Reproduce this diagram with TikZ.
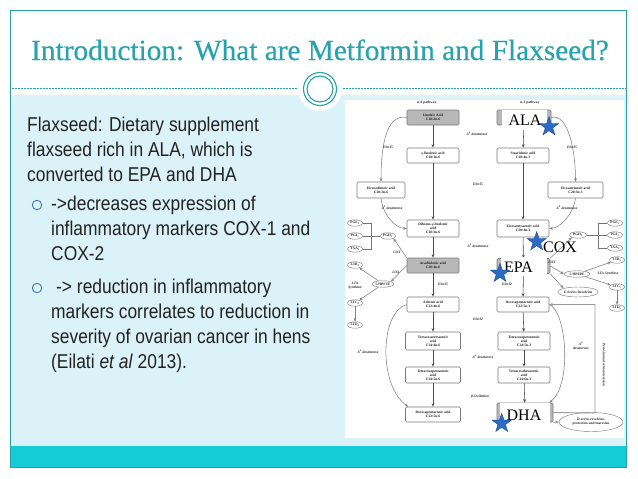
\documentclass[tikz,border=0pt]{standalone}
\usepackage{fontspec}
\setmainfont{Liberation Serif}
\newfontfamily\bodyfont[FakeStretch=0.87]{Liberation Sans}
\newfontfamily\ttlfont[FakeBold=0.35]{Liberation Serif}
\newfontfamily\lblfont{Liberation Serif}
\usetikzlibrary{shapes.geometric,arrows.meta}
\definecolor{teal1}{HTML}{26A3AD}
\definecolor{frame1}{HTML}{2C9EA8}
\definecolor{band}{HTML}{14CCD6}
\definecolor{panel}{HTML}{DBF3F8}
\definecolor{bul}{HTML}{2F6DB5}
\definecolor{txt}{HTML}{222222}
\definecolor{starf}{HTML}{2D6BC4}
\definecolor{stard}{HTML}{1C4C94}
\definecolor{pgray}{HTML}{7A7A7A}
\definecolor{pfill}{HTML}{B8B8B8}
\newcommand\pwf{\fontsize{3.6}{4.0}\selectfont\bfseries}
\newcommand\pwi{\fontsize{3.6}{4.0}\selectfont\bfseries\itshape}
\begin{document}
\begin{tikzpicture}[x=1pt,y=-1pt,
 bodytxt/.style={font=\bodyfont\fontsize{20}{24}\selectfont, text=txt, inner sep=0, anchor=base west},
 bulletc/.style={circle, draw=bul, line width=0.8pt, minimum size=9.5pt, inner sep=0},
 pbox/.style={draw=pgray, line width=0.55pt, rounded corners=1.2pt, fill=white, font=\pwf, align=center, inner sep=0.3pt, minimum width=52pt, minimum height=15pt, text=black!90},
 gbox/.style={pbox, fill=pfill},
 pell/.style={ellipse, draw=pgray, line width=0.45pt, fill=white, font=\pwf, inner sep=0.2pt, minimum width=15pt, minimum height=6.5pt, text=black!85, align=center},
 parr/.style={draw=black!70, line width=0.55pt, -{Stealth[length=3.5pt,width=2.8pt]}},
 parc/.style={parr, draw=black!50},
 pline/.style={draw=black!55, line width=0.5pt},
 plab/.style={font=\pwi, text=black!85, inner sep=0.3pt, align=center},
 phead/.style={font=\pwf, text=black!85, inner sep=0.3pt},
 coverbox/.style={fill=white, inner sep=0, draw=none},
 biglab/.style={font=\lblfont\fontsize{16}{16}\selectfont, text=black, inner sep=0},
 starst/.style={star, star points=5, star point ratio=2.5, fill=starf, draw=stard, line width=0.4pt, minimum size=20pt, inner sep=0}
]
\useasboundingbox (0,0) rectangle (638,479);
\fill[white] (0,0) rectangle (638,479);
% panel and band
\fill[panel] (10.5,95) rectangle (625.5,446);
\fill[band] (10.5,446) rectangle (625.5,466.5);
\draw[frame1, line width=0.9pt] (10,10) rectangle (626,467);
\draw[teal1, line width=0.6pt, dash pattern=on 0.7pt off 0.8pt] (10,88) -- (626,88);
% ornament
\fill[white] (320,89) circle[radius=22pt];
\draw[teal1, line width=1.1pt] (320,89) circle[radius=16.5pt];
\draw[teal1, line width=1.1pt] (320,89) circle[radius=13pt];
% title
\node[anchor=base west, font=\ttlfont\fontsize{29.3}{32}\selectfont, text=teal1, inner sep=0] (title) at (31,60) {Introduction: What are Metformin and Flaxseed?};
% body text
\node[bodytxt] (l1) at (27,131) {Flaxseed: Dietary supplement};
\node[bodytxt] (l2) at (27,156) {flaxseed rich in ALA, which is};
\node[bodytxt] (l3) at (27,181) {converted to EPA and DHA};
\node[bulletc] (b1) at (37,205) {};
\node[bodytxt] (l4) at (51,210) {->decreases expression of};
\node[bodytxt] (l5) at (51,235) {inflammatory markers COX-1 and};
\node[bodytxt] (l6) at (51,260) {COX-2};
\node[bulletc] (b2) at (37,288) {};
\node[bodytxt] (l7) at (56,293) {-> reduction in inflammatory};
\node[bodytxt] (l8) at (51,318) {markers correlates to reduction in};
\node[bodytxt] (l9) at (51,343) {severity of ovarian cancer in hens};
\node[bodytxt] (l10) at (51,368) {(Eilati \textit{et al} 2013).};
% pathway image background
\fill[white] (345,100) rectangle (624,438);
\node[phead] (h6) at (427,102.5) {n-6 pathway};
\node[phead] (h3) at (530,102.5) {n-3 pathway};
% n-6 column
\node[gbox] (lin) at (433,117.5) {Linoleic Acid\\C18:2n-6};
\node[pbox] (gla) at (433,155.5) {γ-linolenic acid\\C18:3n-6};
\node[pbox, minimum height=17pt] (dgla) at (433,228.5) {Dihomo-γ-linolenic\\acid\\C20:3n-6};
\node[gbox] (ara) at (433,265.5) {Arachidonic acid\\C20:4n-6};
\node[pbox] (adr) at (433,304.5) {Adrenic acid\\C22:4n-6};
\node[pbox, minimum width=55pt, minimum height=18pt] (tta) at (433,341) {Tetracosatetraenoic\\acid\\C24:4n-6};
\node[pbox, minimum width=55pt, minimum height=16pt] (tpa6) at (433,375) {Tetracosapentaenoic\\acid\\C24:5n-6};
\node[pbox, minimum width=55pt] (dpa6) at (433,414.5) {Docosapentaenoic acid\\C22:5n-6};
% n-3 column
\node[gbox, minimum width=54pt] (ala) at (524,117.5) {};
\node[pbox] (sda) at (523,155.5) {Stearidonic acid\\C18:4n-3};
\node[pbox, minimum height=17pt] (eta) at (523,228.5) {Eicosatetraenoic acid\\C20:4n-3};
\node[gbox, minimum width=53pt] (epa) at (523.5,266) {};
\node[pbox] (dpa3) at (523,304.5) {Docosapentaenoic acid\\C22:5n-3};
\node[pbox, minimum height=18pt] (tpa3) at (524,341) {Tetracosapentaenoic\\acid\\C24:5n-3};
\node[pbox, minimum height=16pt] (thx) at (524,375) {Tetracosahexaenoic\\acid\\C24:6n-3};
\node[gbox, minimum width=56pt, minimum height=19pt] (dha) at (525,412.5) {};
% side boxes
\node[pbox, minimum width=48pt, minimum height=16pt] (eda) at (381,190) {Eicosadienoic acid\\C20:2n-6};
\node[pbox, minimum width=55pt, minimum height=16pt] (etra) at (575.5,190) {Eicosatrienoic acid\\C20:3n-3};
% vertical arrows
\draw[parr] (lin) -- (gla);
\draw[parr] (gla) -- (dgla);
\draw[parr] (dgla) -- (ara);
\draw[parr] (ara) -- (adr);
\draw[parr] (adr) -- (tta);
\draw[parr] (tta) -- (tpa6);
\draw[parr] (tpa6) -- (dpa6);
\draw[parr] (ala) -- (sda);
\draw[parr] (sda) -- (eta);
\draw[parr] (eta) -- (epa);
\draw[parr] (epa) -- (dpa3);
\draw[parr] (dpa3) -- (tpa3);
\draw[parr] (tpa3) -- (thx);
\draw[parr] (thx) -- (dha);
% curved arrows
\draw[parc] (lin.west) .. controls (385,113) and (381,150) .. (eda.north);
\draw[parc] (ala.east) .. controls (568,113) and (575.5,150) .. (etra.north);
\draw[parc] (eda.south) .. controls (383,215) and (395,228) .. (dgla.west);
\draw[parc] (etra.south) .. controls (573,215) and (560,228) .. (eta.east);
\draw[parc] (adr.west) .. controls (380,312) and (378,385) .. ([xshift=3pt]dpa6.north west);
\draw[parc] (dpa3.east) .. controls (567,312) and (572,385) .. ([xshift=-4pt]dha.north east);
% pathway labels
\node[plab] (d6a) at (477,134) {Δ\textsuperscript{6} desaturase};
\node[plab] (el5a) at (388,147) {Elovl5};
\node[plab] (el5b) at (572,147) {Elovl5};
\node[plab] (el5c) at (478,184) {Elovl5};
\node[plab] (d8a) at (392,208) {Δ\textsuperscript{8} desaturase};
\node[plab] (d8b) at (567,208) {Δ\textsuperscript{8} desaturase};
\node[plab] (d5a) at (478,246) {Δ\textsuperscript{5} desaturase};
\node[plab] (el5d) at (443,284) {Elovl5};
\node[plab] (el2a) at (507,284) {Elovl2};
\node[plab] (el2b) at (478,319) {Elovl2};
\node[plab] (d6b) at (368,352) {Δ\textsuperscript{6} desaturase};
\node[plab] (d6c) at (483,357) {Δ\textsuperscript{6} desaturase};
\node[plab] (d6d) at (581,346) {Δ\textsuperscript{6}\\desaturase};
\node[plab] (box) at (480,397) {β-Oxidation};
% left eicosanoids
\node[pell] (pge2) at (355,223) {PGE\textsubscript{2}};
\node[pell] (pgi2) at (355,236) {PGI\textsubscript{2}};
\node[pell] (txa2) at (355,249) {TXA\textsubscript{2}};
\node[pell] (pgh2) at (388,236) {PGH\textsubscript{2}};
\coordinate (brL) at (371,236);
\draw[pline] (pge2.east) -| (brL);
\draw[pline] (txa2.east) -| (brL);
\draw[pline] (pgi2) -- (pgh2);
\node[plab] (coxl) at (397,252) {COX};
\draw[parc] (ara.north west) -- (pgh2.south east);
\node[pell] (ltb4) at (355,265) {LTB\textsubscript{4}};
\node[pell, minimum width=22pt] (hpete) at (383,284) {5-HPETE};
\node[plab] (ltal) at (355,285.5) {LTA\\Synthase};
\node[plab] (loxl) at (396,272) {LOX};
\node[pell] (ltc4) at (355,303) {LTC\textsubscript{4}};
\node[pell] (ltd4) at (355,325) {LTD\textsubscript{4}};
\draw[parc] (ara.west) -- (hpete.north east);
\draw[parc] (hpete) -- (ltb4);
\draw[parc] (hpete) -- (ltc4);
\draw[parc] (ltc4) -- (ltd4);
% right eicosanoids
\node[pell] (pge3) at (615,223) {PGE\textsubscript{3}};
\node[pell] (pgi3) at (615,235) {PGI\textsubscript{3}};
\node[pell] (txa3) at (615,248) {TXA\textsubscript{3}};
\node[pell, minimum width=17pt] (pgh3) at (578,235) {PGH\textsubscript{3}};
\coordinate (brR) at (598,235);
\draw[pline] (pge3.west) -| (brR);
\draw[pline] (txa3.west) -| (brR);
\draw[pline] (pgi3) -- (pgh3);
\draw[parc] (epa.north east) -- (pgh3.south west);
\node[pell] (ltb5) at (617,260) {LTB\textsubscript{5}};
\node[pell, minimum width=26pt] (hpepe) at (577,274) {5-HPEPE};
\node[plab] (ltar) at (608,273.5) {LTA Synthase};
\node[pell] (ltc5) at (617,287) {LTC\textsubscript{5}};
\node[pell] (ltd5) at (617,308) {LTD\textsubscript{5}};
\node[pell, minimum width=40pt, minimum height=10pt] (eser) at (578,292) {E-Series Resolvins};
\node[plab] (loxr) at (552,262) {LOX};
\draw[parc] (epa.east) -- (hpepe.west);
\draw[parc] (hpepe) -- (ltb5);
\draw[parc] (hpepe) -- (ltc5);
\draw[parc] (ltc5) -- (ltd5);
\draw[parc] (epa.south east) -- (eser.north west);
% retroconversion and D-series
\node[pell, minimum width=64pt, minimum height=19pt] (dser) at (591,422) {D-series resolvins,\\protectins and maresins};
\coordinate (rc1) at (595,413);
\coordinate (rc2) at (595,304.5);
\draw[parr, draw=black!40, line width=0.9pt] (dha.east) -- (rc1) -- (rc2) -- (dpa3.east);
\draw[parc] (dha.south east) -- (dser.west);
\node[plab, rotate=-90] (perox) at (604,365) {Peroxisomal retroconversion};
% covers and overlaid labels
\node[coverbox, minimum width=45pt, minimum height=20pt] (alacv) at (524.5,119.5) {};
\node[biglab] (alal) at (525,120.5) {ALA};
\node[coverbox, minimum width=46pt, minimum height=19pt] (epacv) at (523.5,266.5) {};
\node[biglab] (epal) at (518.5,267.5) {EPA};
\node[coverbox, minimum width=50pt, minimum height=21pt] (dhacv) at (524.5,413) {};
\node[biglab] (dhal) at (524,415) {DHA};
\node[biglab] (coxb) at (560,247.5) {COX};
% stars
\node[starst] (s1) at (549,126.7) {};
\node[starst] (s2) at (536.7,241.7) {};
\node[starst] (s3) at (500,273.3) {};
\node[starst] (s4) at (501.7,423.3) {};
\end{tikzpicture}
\end{document}
